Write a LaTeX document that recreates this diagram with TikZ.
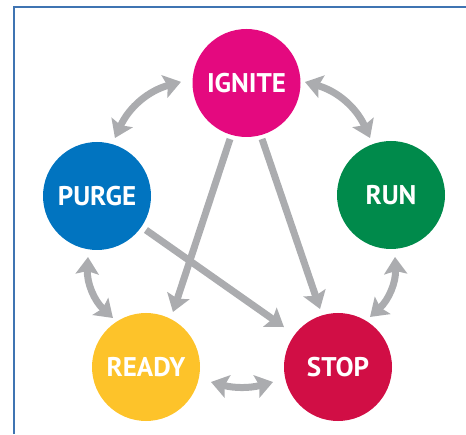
\documentclass[tikz,border=0pt]{standalone}
\usepackage{fontspec}
\setmainfont{PT Sans}
\usetikzlibrary{arrows.meta,calc}
\definecolor{cIgnite}{HTML}{E4097F}
\definecolor{cPurge}{HTML}{0174C0}
\definecolor{cRun}{HTML}{008A4B}
\definecolor{cReady}{HTML}{FDC32A}
\definecolor{cStop}{HTML}{D10E45}
\definecolor{cArrow}{HTML}{ABACAF}
\definecolor{cBorder}{HTML}{3F74B2}
\begin{document}
\begin{tikzpicture}[x=1pt,y=1pt,
  state/.style={circle,fill=#1,minimum size=108pt,inner sep=0pt,text=white,
    font=\fontsize{27}{27}\selectfont\bfseries},
  conn/.style={draw=cArrow,line width=7pt,
    -{Stealth[length=17pt,width=23pt,inset=3pt]}},
  dconn/.style={draw=cArrow,line width=7pt,
    {Stealth[length=17pt,width=23pt,inset=3pt]}-{Stealth[length=17pt,width=23pt,inset=3pt]}}]
\useasboundingbox (0,0) rectangle (466,434);
\draw[cBorder,line width=1.2pt] (14,0) -- (14,427) -- (466,427);
\node[state=cIgnite] (ignite) at (246.5,351) {IGNITE};
\node[state=cPurge] (purge) at (97,238) {PURGE};
\node[state=cRun] (run) at (391,239) {RUN};
\node[state=cReady] (ready) at (146,67) {READY};
\node[state=cStop] (stop) at (338,67) {STOP};
% straight arrows
\draw[conn] ($(ignite)+(253.6:58.4)$) -- ($(ready)+(63.9:61.3)$);
\draw[conn] ($(ignite)+(285.5:58.1)$) -- ($(stop)+(107.2:60.7)$);
\draw[conn] ($(purge)+(325.2:59.6)$) -- ($(stop)+(143.5:67.2)$);
% curved double arrows
\draw[dconn] ($(purge)+(72.8:60.7)$) to[bend left=25] ($(ignite)+(179:65.5)$);
\draw[dconn] ($(ignite)+(1:58.5)$) to[bend left=25] ($(run)+(110.2:60.7)$);
\draw[dconn] ($(purge)+(261.6:61.7)$) to[bend right=25] ($(ready)+(124:59.1)$);
\draw[dconn] ($(run)+(273.7:62.1)$) to[bend left=25] ($(stop)+(57.4:59.4)$);
\draw[dconn] ($(ready)+(347:66.7)$) to[bend right=15] ($(stop)+(193:66.7)$);
\end{tikzpicture}
\end{document}
